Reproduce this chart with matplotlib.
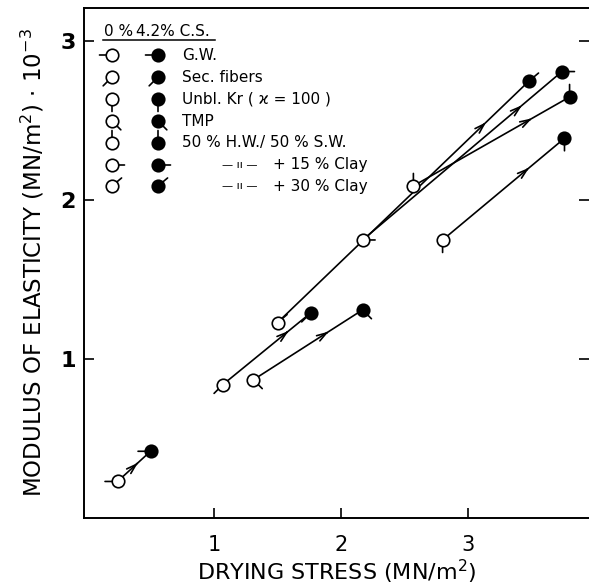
import matplotlib
matplotlib.use('Agg')
import matplotlib.pyplot as plt
import numpy as np

plt.rcParams['font.family'] = ['DejaVu Sans']
plt.rcParams['mathtext.default'] = 'regular'

# ---- data ----
series = ['G.W.', 'Sec. fibers', 'Unbl. Kr ( ϰ = 100 )', 'TMP',
          '50 % H.W./ 50 % S.W.', '+ 15 % Clay', '+ 30 % Clay']
stress_0cs = [0.24, 1.07, 2.80, 1.31, 2.57, 2.17, 1.50]
moe_0cs = [0.23, 0.84, 1.75, 0.87, 2.09, 1.75, 1.23]
stress_42cs = [0.50, 1.76, 3.76, 2.17, 3.80, 3.74, 3.48]
moe_42cs = [0.42, 1.29, 2.39, 1.31, 2.65, 2.81, 2.75]
x_ticks = [1, 2, 3]
y_ticks = [1, 2, 3]

# ---- styles ----
tick_angles = [180, 225, 270, 315, 90, 0, 40]
arrow_frac = [0.62, 0.75, 0.71, 0.69, 0.76, 0.80, 0.83]

W, H = 589, 586
fig = plt.figure(figsize=(W / 100, H / 100), dpi=100)
L, R, T, B = 84, 589, 8, 518
ax = fig.add_axes([L / W, (H - B) / H, (R - L) / W, (B - T) / H])
ax.set_xlim(-0.024, 3.953)
ax.set_ylim(0, 3.21)

for s in ['left', 'bottom', 'top']:
    ax.spines[s].set_linewidth(1.4)
ax.spines['right'].set_visible(False)

ax.set_xticks(x_ticks)
ax.set_yticks(y_ticks)
ax.tick_params(axis='both', direction='in', length=7, width=1.2, right=True)
ax.tick_params(axis='x', pad=12, labelsize=15)
ax.tick_params(axis='y', pad=6, labelsize=16)
for lab in ax.get_yticklabels():
    lab.set_fontweight('bold')

ax.set_xlabel('DRYING STRESS (MN/m$^2$)', fontsize=16, labelpad=2)
ax.set_ylabel('MODULUS OF ELASTICITY (MN/m$^2$) $\\cdot$ 10$^{-3}$', fontsize=16.5, labelpad=10)

MS = 9
TL = 9  # tick length in points from centre


def marker(x, y, ang, filled, coords='data'):
    a = np.deg2rad(ang)
    ax.annotate('', xy=(x, y), xycoords=coords,
                xytext=(TL * np.cos(a), TL * np.sin(a)), textcoords='offset points',
                arrowprops=dict(arrowstyle='-', lw=1.2, color='k', shrinkA=0, shrinkB=0),
                zorder=3, annotation_clip=False)
    tr = ax.transAxes if coords == 'axes fraction' else ax.transData
    ax.plot([x], [y], 'o', ms=MS, mfc='k' if filled else 'w', mec='k', mew=1.2,
            zorder=4, transform=tr, clip_on=False)


for i in range(len(series)):
    x0, y0 = stress_0cs[i], moe_0cs[i]
    x1, y1 = stress_42cs[i], moe_42cs[i]
    ax.plot([x0, x1], [y0, y1], color='k', lw=1.2, zorder=2)
    f = arrow_frac[i]
    xa, ya = x0 + f * (x1 - x0), y0 + f * (y1 - y0)
    xb, yb = x0 + (f - 0.02) * (x1 - x0), y0 + (f - 0.02) * (y1 - y0)
    ax.annotate('', xy=(xa, ya), xytext=(xb, yb),
                arrowprops=dict(arrowstyle='->,head_length=0.7,head_width=0.22',
                                lw=1.2, color='k', shrinkA=0, shrinkB=0), zorder=2)
    marker(x0, y0, tick_angles[i], False)
    marker(x1, y1, tick_angles[i], True)


# ---- legend block (built as text) ----
def pfx(px, py):
    return ((px - L) / (R - L), (B - py) / (B - T))


fs = 11
hx, hy = pfx(104, 32)
ax.text(hx, hy, '0 %', transform=ax.transAxes, fontsize=fs, va='center', ha='left')
hx2, _ = pfx(136, 32)
ax.text(hx2, hy, '4.2% C.S.', transform=ax.transAxes, fontsize=fs, va='center', ha='left')
u0, uy = pfx(103, 40)
u1, _ = pfx(215, 40)
ax.plot([u0, u1], [uy, uy], color='k', lw=1.1, transform=ax.transAxes)

row_y = [55, 77, 99, 121, 143, 165, 186]
for i, name in enumerate(series):
    ox, oy = pfx(112, row_y[i])
    fx, _ = pfx(158, row_y[i])
    marker(ox, oy, tick_angles[i], False, coords='axes fraction')
    marker(fx, oy, tick_angles[i], True, coords='axes fraction')
    if i < 5:
        lx, _ = pfx(182, row_y[i])
        ax.text(lx, oy, name, transform=ax.transAxes, fontsize=fs, va='center', ha='left')
    else:
        dx, _ = pfx(222, row_y[i])
        ax.text(dx, oy, '— ıı —', transform=ax.transAxes, fontsize=8, va='center', ha='left')
        lx, _ = pfx(273, row_y[i])
        ax.text(lx, oy, name, transform=ax.transAxes, fontsize=fs, va='center', ha='left')

fig.savefig('out.png', dpi=100)
